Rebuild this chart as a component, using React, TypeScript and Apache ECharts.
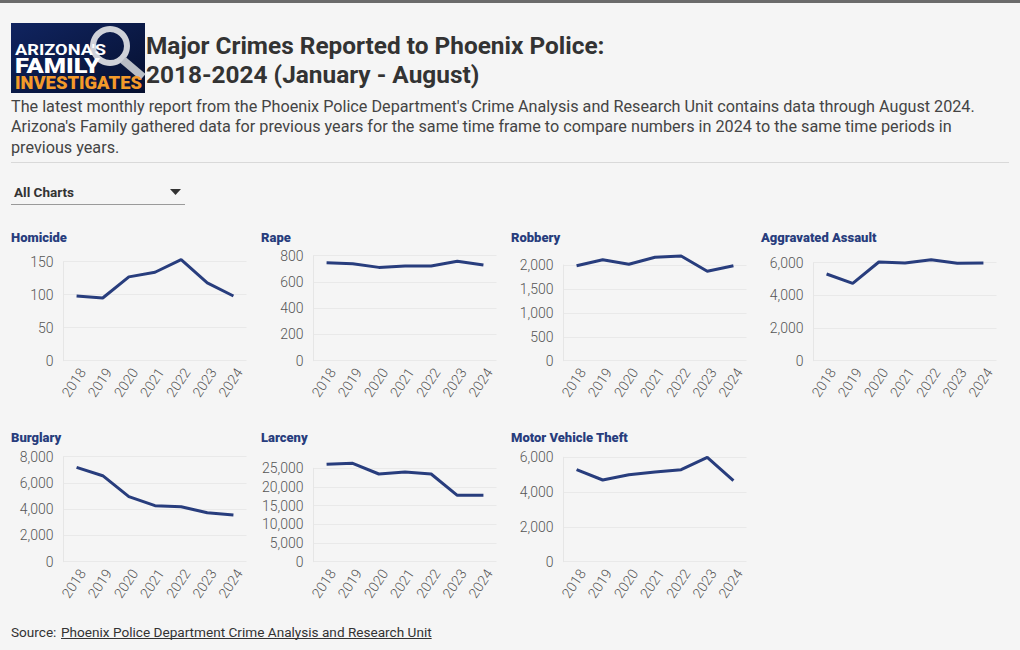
import React, { useEffect, useRef } from "react";
import * as echarts from "echarts";

const years = ["2018", "2019", "2020", "2021", "2022", "2023", "2024"];
const homicide = [98, 95, 127, 134, 153, 118, 98];
const rape = [746, 739, 711, 721, 722, 757, 729];
const robbery = [1985, 2111, 2015, 2161, 2188, 1868, 1985];
const aggravatedAssault = [5308, 4739, 6043, 5982, 6184, 5963, 5982];
const burglary = [7192, 6552, 4952, 4267, 4190, 3733, 3558];
const larceny = [26070, 26340, 23475, 24010, 23475, 17770, 17770];
const motorVehicleTheft = [5287, 4695, 5000, 5155, 5287, 6000, 4655];

const panelTitles = ["Homicide", "Rape", "Robbery", "Aggravated Assault", "Burglary", "Larceny", "Motor Vehicle Theft"];
const panelData = [homicide, rape, robbery, aggravatedAssault, burglary, larceny, motorVehicleTheft];
const yMax = [150, 800, 2000, 6000, 8000, 25000, 6000];
const yInterval = [50, 200, 500, 2000, 2000, 5000, 2000];

const titleLines = ["Major Crimes Reported to Phoenix Police:", "2018-2024 (January - August)"];
const subtitleLines = [
  "The latest monthly report from the Phoenix Police Department's Crime Analysis and Research Unit contains data through August 2024.",
  "Arizona's Family gathered data for previous years for the same time frame to compare numbers in 2024 to the same time periods in",
  "previous years.",
];
const sourceLabel = "Source: ";
const sourceLink = "Phoenix Police Department Crime Analysis and Research Unit";
const dropdownLabel = "All Charts";
const logoLines = ["ARIZONA'S", "FAMILY", "INVESTIGATES"];

// layout (pixel positions, not data)
const FONT = "Roboto, 'Noto Sans', sans-serif";
const NAVY = "#283d7d";
const rowBottom = [360.7, 561.7];
const gridTops = [261.7, 255.7, 265, 262.7, 456.7, 468.3, 457.3];

function measure(text: string, font: string): number {
  const ctx = document.createElement("canvas").getContext("2d");
  if (!ctx) return text.length * 7;
  ctx.font = font;
  return ctx.measureText(text).width;
}

function fitText(text: string, font: string, x: number, y: number, width: number, fill: string, lineHeight: number) {
  const w = measure(text, font);
  return {
    type: "text",
    x,
    y,
    scaleX: width / w,
    style: { text, fill, font, lineHeight, verticalAlign: "middle", textVerticalAlign: "middle" },
  };
}

export default function App() {
  const ref = useRef<HTMLDivElement>(null);
  useEffect(() => {
    if (!ref.current) return;
    const chart = echarts.init(ref.current, undefined, { renderer: "svg" });

    const grids: any[] = [];
    const xAxes: any[] = [];
    const yAxes: any[] = [];
    const series: any[] = [];
    const graphics: any[] = [];

    panelTitles.forEach((t, i) => {
      const col = i % 4;
      const row = Math.floor(i / 4);
      const top = gridTops[i];
      grids.push({ left: 63.5 + 250 * col, top, width: 183, height: rowBottom[row] - top });
      xAxes.push({
        type: "category",
        gridIndex: i,
        data: years,
        boundaryGap: true,
        axisTick: { show: false },
        axisLine: { show: false },
        axisLabel: {
          rotate: 56,
          interval: 0,
          margin: 5,
          verticalAlign: "top",
          fontSize: 14,
          color: "#555",
          fontFamily: FONT,
          fontWeight: 300,
        },
      });
      yAxes.push({
        type: "value",
        gridIndex: i,
        min: 0,
        max: yMax[i],
        interval: yInterval[i],
        axisLine: { show: true, lineStyle: { color: "#e6e6e6" } },
        axisTick: { show: false },
        splitLine: { lineStyle: { color: "#e9e9e9" } },
        axisLabel: {
          margin: 10,
          fontSize: 14,
          color: "#555",
          fontFamily: FONT,
          fontWeight: 300,
          formatter: (v: number) => v.toLocaleString("en-US"),
        },
      });
      series.push({
        type: "line",
        xAxisIndex: i,
        yAxisIndex: i,
        data: panelData[i],
        symbol: "none",
        clip: false,
        lineStyle: { color: NAVY, width: 3 },
        silent: true,
      });
      graphics.push({
        type: "text",
        x: 11 + 250 * col,
        y: row === 0 ? 237 : 437,
        style: { text: t, fill: NAVY, font: `900 13px ${FONT}`, verticalAlign: "middle", textVerticalAlign: "middle" },
      });
    });

    // top bar
    graphics.push({ type: "rect", shape: { x: 0, y: 0, width: 1020, height: 3 }, style: { fill: "#6b6b6b" } });

    // logo
    const logoFont1 = `bold 14px ${FONT}`;
    const logoFont2 = `900 21px ${FONT}`;
    const logoFont3 = `900 18px ${FONT}`;
    graphics.push({
      type: "group",
      children: [
        {
          type: "rect",
          shape: { x: 11, y: 23, width: 134, height: 70 },
          style: {
            fill: new echarts.graphic.LinearGradient(0, 0, 1, 1, [
              { offset: 0, color: "#102460" },
              { offset: 1, color: "#06102f" },
            ]),
          },
        },
        { type: "ring", shape: { cx: 110, cy: 46, r: 20, r0: 14 }, style: { fill: "#cfd2d9" } },
        { type: "line", shape: { x1: 123, y1: 60, x2: 143, y2: 77 }, style: { stroke: "#b9bdc5", lineWidth: 8 } },
        fitText(logoLines[0], logoFont1, 15, 50, 91, "#ffffff", 11),
        fitText(logoLines[1], logoFont2, 15, 65.5, 85, "#ffffff", 15),
        fitText(logoLines[2], logoFont3, 15, 82.5, 127, "#f39a2a", 13),
      ],
    });

    // title
    titleLines.forEach((l, k) => {
      graphics.push({
        type: "text",
        x: 146,
        y: k === 0 ? 45 : 74,
        style: { text: l, fill: "#333333", font: `bold 24.4px ${FONT}`, verticalAlign: "middle", textVerticalAlign: "middle" },
      });
    });
    // subtitle
    subtitleLines.forEach((l, k) => {
      graphics.push({
        type: "text",
        x: 11,
        y: 106 + k * 20.5,
        style: { text: l, fill: "#444444", font: `16.2px ${FONT}`, verticalAlign: "middle", textVerticalAlign: "middle" },
      });
    });
    // separator
    graphics.push({ type: "line", shape: { x1: 11, y1: 162.5, x2: 1009, y2: 162.5 }, style: { stroke: "#d9d9d9", lineWidth: 1 } });

    // dropdown
    graphics.push({ type: "text", x: 14, y: 192, style: { text: dropdownLabel, fill: "#333", font: `bold 13.5px ${FONT}`, verticalAlign: "middle", textVerticalAlign: "middle" } });
    graphics.push({ type: "polygon", shape: { points: [[170, 189], [181, 189], [175.5, 195]] }, style: { fill: "#333" } });
    graphics.push({ type: "line", shape: { x1: 11, y1: 204.5, x2: 185, y2: 204.5 }, style: { stroke: "#9a9a9a", lineWidth: 1 } });

    // source
    const srcFont = `13.6px ${FONT}`;
    const w1 = measure(sourceLabel, srcFont);
    const w2 = measure(sourceLink, srcFont);
    const linkX = 61;
    graphics.push({ type: "text", x: 11, y: 632, style: { text: sourceLabel, fill: "#333", font: srcFont, verticalAlign: "middle", textVerticalAlign: "middle" } });
    graphics.push({ type: "text", x: linkX, y: 632, style: { text: sourceLink, fill: "#333", font: srcFont, verticalAlign: "middle", textVerticalAlign: "middle" } });
    graphics.push({ type: "line", shape: { x1: linkX, y1: 638.5, x2: linkX + w2, y2: 638.5 }, style: { stroke: "#333", lineWidth: 1 } });

    chart.setOption({
      animation: false,
      backgroundColor: "#f5f5f5",
      grid: grids,
      xAxis: xAxes,
      yAxis: yAxes,
      series,
      graphic: graphics,
    });
    return () => chart.dispose();
  }, []);
  return <div ref={ref} style={{ position: "fixed", left: 0, top: 0, width: 1020, height: 650 }} />;
}
